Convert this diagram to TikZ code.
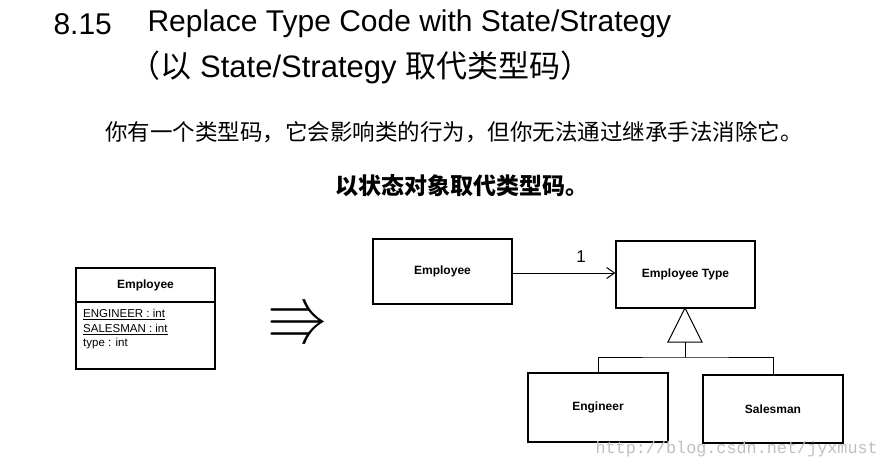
\documentclass[tikz,border=0pt]{standalone}
\usepackage{amssymb}
\usepackage{fontspec}
\setmainfont{Liberation Sans}
\newfontfamily\cjk{Noto Sans CJK SC}
\newfontfamily\monof{Liberation Mono}
\usetikzlibrary{arrows.meta}
\begin{document}
\begin{tikzpicture}[x=1pt,y=-1pt,
  cls/.style={draw,line width=1.1pt,inner sep=0pt,font=\bfseries\fontsize{12}{14}\selectfont},
  ln/.style={line width=1pt}]
\useasboundingbox (0,0) rectangle (887,469);
% titles
\node[anchor=west,font=\fontsize{30}{34}\selectfont] (num) at (50,24) {8.15};
\node[anchor=west,font=\fontsize{30}{34}\selectfont] (t1) at (144,24) {Replace Type Code with State/Strategy};
\node[anchor=west,font=\fontsize{31}{34}\selectfont] (t2) at (126,67) {{\cjk （以} State/Strategy {\cjk 取代类型码）}};
\node[font=\cjk\fontsize{22.5}{26}\selectfont] (s1) at (454,132) {你有一个类型码，它会影响类的行为，但你无法通过继承手法消除它。};
\node[font=\cjk\bfseries\fontsize{23}{26}\selectfont] (s2) at (462,186) {以状态对象取代类型码。};
% left class
\node[cls,minimum width=139pt,minimum height=101pt] (emp0) at (145.5,318.5) {};
\draw[line width=1.1pt] (76,302) -- (215,302);
\node[font=\bfseries\fontsize{12}{14}\selectfont] (en) at (145.5,285) {Employee};
\node[anchor=north west,align=left,inner sep=0pt,font=\fontsize{11.5}{14.5}\selectfont] (attrs) at (83,309)
  {\underline{ENGINEER : int}\\\underline{SALESMAN : int}\\type : int};
\node[font=\fontsize{62}{62}\selectfont] (imp) at (298,322) {$\Rrightarrow$};
% right side
\node[cls,minimum width=139pt,minimum height=65pt] (emp) at (442.5,271.5) {Employee};
\node[cls,minimum width=139pt,minimum height=67pt] (et) at (685.5,274.5) {Employee Type};
\node[cls,minimum width=140pt,minimum height=69pt] (eng) at (598,407.5) {Engineer};
\node[cls,minimum width=140pt,minimum height=68pt] (sal) at (773,409) {Salesman};
\draw[ln,-{Straight Barb[length=8pt,width=11pt]}] (emp.east|-0,273) -- (et.west|-0,273);
\node[font=\fontsize{17}{20}\selectfont] (one) at (581,257) {1};
\coordinate (tb) at (685,342);
\draw[ln] (685,308) -- (668,342) -- (702,342) -- cycle;
\draw[ln] (tb) -- (685,357);
\draw[ln] (eng.north) |- (685,357) -| (sal.north);
\node[anchor=west,text=black!25,font=\monof\fontsize{16.8}{18}\selectfont] (wm) at (592,449) {http://blog.csdn.net/jyxmust};
\end{tikzpicture}
\end{document}
